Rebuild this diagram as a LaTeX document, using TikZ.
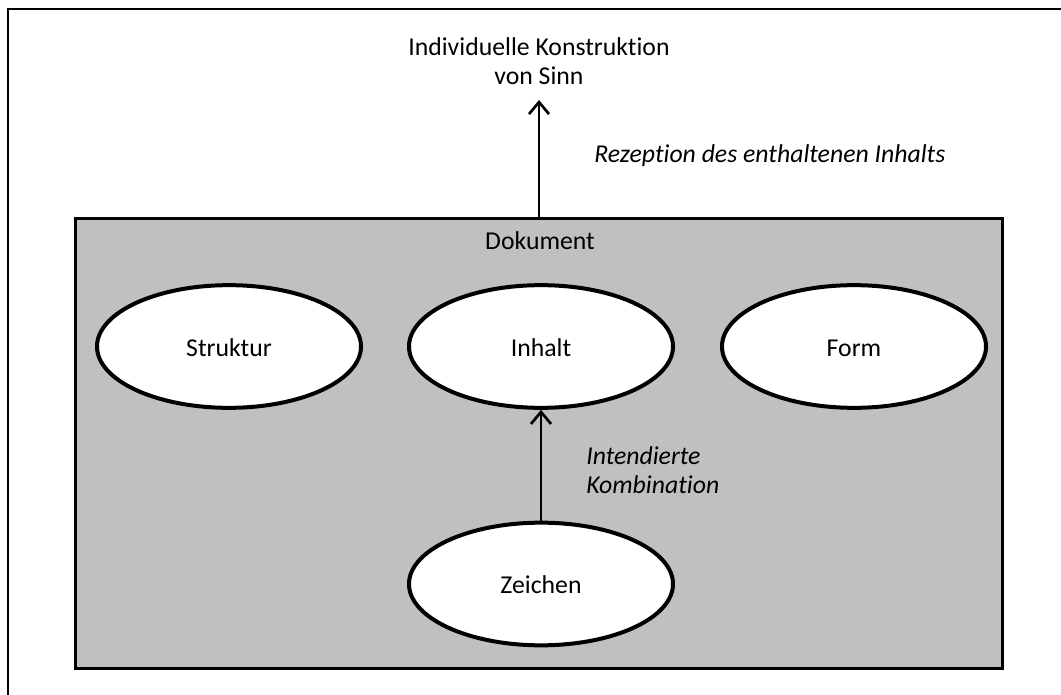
\documentclass[tikz,border=0pt]{standalone}
\usepackage{fontspec}
\setmainfont{Carlito}[Ligatures=NoCommon]
\usetikzlibrary{arrows.meta,shapes.geometric}

\definecolor{kastengrau}{RGB}{192,192,192}

\tikzset{
    blase/.style={ellipse, draw, line width=3pt, fill=white, minimum width=198pt, minimum height=92pt, inner sep=0pt, text height=15.5pt, text depth=1pt},
    kasten/.style={draw, line width=2.25pt, fill=kastengrau, inner sep=0pt},
    pfeil/.style={line width=2pt, -{Straight Barb[length=9pt,width=15pt,line width=2pt]}},
    schrift/.style={font=\fontsize{19.3}{21.75}\selectfont, inner sep=0.75pt},
}

\begin{document}
\begin{tikzpicture}[x=0.75pt,y=0.75pt,yscale=-1,xscale=1]
        \useasboundingbox (0,0) rectangle (1061,695);

        %Outer frame
        \draw [line width=1.8pt] (8,695) -- (8,9) -- (1061,9) ;

        %Shape: Rectangle [id:dok]
        \node (dok) [kasten, minimum width=695.25pt, minimum height=337.5pt] at (539,443.5) {};

        %Shape: Ellipse
        \node (struktur) [blase, schrift] at (229,346.5) {Struktur};
        %Shape: Ellipse
        \node (inhalt) [blase, schrift] at (541,346.5) {Inhalt};
        %Shape: Ellipse
        \node (form) [blase, schrift] at (854,346.5) {Form};
        %Shape: Ellipse
        \node (zeichen) [blase, schrift] at (541,584) {Zeichen};

        % Text Node
        \node (sinn) [schrift, align=center, anchor=south, inner ysep=11pt] at (539,100) {Individuelle Konstruktion\\von Sinn};
        % Text Node
        \node (rezeption) [schrift, anchor=base west] at (593,163) {\itshape Rezeption des enthaltenen Inhalts};
        % Text Node
        \node (doktitel) [schrift, anchor=base] at (540,250) {Dokument};
        % Text Node
        \node (kombination) [schrift, align=left, anchor=north west] at (585,445) {\itshape Intendierte\\\itshape Kombination};

        %Straight Lines
        \draw [pfeil] (dok.north) -- (sinn.south) ;
        %Straight Lines
        \draw [pfeil] (zeichen) -- (inhalt) ;

\end{tikzpicture}
\end{document}
